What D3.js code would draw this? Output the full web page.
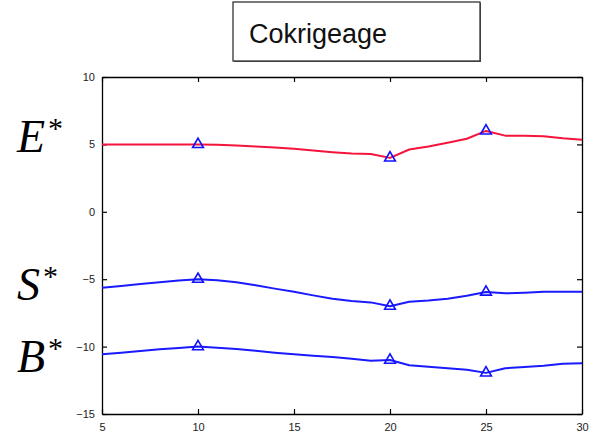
<!DOCTYPE html>
<html>
<head>
<meta charset="utf-8">
<script src="https://cdn.jsdelivr.net/npm/d3@7/dist/d3.min.js"></script>
<style>
html,body{margin:0;padding:0;background:#fff;}
svg{display:block;}
</style>
</head>
<body>
<svg id="chart" width="596" height="439"></svg>
<script>
const xs = [5,6,7,8,9,10,11,12,13,14,15,16,17,18,19,20,21,22,23,24,25,26,27,28,29,30];
const eStar = [5.0,5.0,5.0,5.0,5.0,5.0,4.97,4.92,4.85,4.77,4.67,4.54,4.42,4.32,4.28,4.0,4.62,4.85,5.12,5.42,6.0,5.65,5.65,5.6,5.45,5.35];
const sStar = [-5.63,-5.5,-5.36,-5.22,-5.1,-5.0,-5.08,-5.22,-5.45,-5.7,-5.93,-6.2,-6.45,-6.62,-6.72,-7.0,-6.67,-6.58,-6.45,-6.22,-5.95,-6.05,-6.0,-5.93,-5.93,-5.93];
const bStar = [-10.57,-10.45,-10.32,-10.2,-10.1,-10.0,-10.08,-10.18,-10.3,-10.45,-10.57,-10.68,-10.78,-10.9,-11.05,-11.0,-11.38,-11.5,-11.6,-11.72,-11.95,-11.6,-11.52,-11.42,-11.27,-11.24];
const markerX = [10,20,25];
const xTicks = [5,10,15,20,25,30];
const yTicks = [-15,-10,-5,0,5,10];
const title = "Cokrigeage";
const seriesLabels = ["E","S","B"];

const svg = d3.select("#chart");
const L = 102, R = 582, T = 77, B = 414;
const x = d3.scaleLinear().domain([5,30]).range([L,R]);
const y = d3.scaleLinear().domain([-15,10]).range([B,T]);

// axes
const tickLen = 5;
const fmt = d3.format("d");
const axB = svg.append("g").attr("transform",`translate(0,${B})`)
  .call(d3.axisBottom(x).tickValues(xTicks).tickSizeInner(-tickLen).tickSizeOuter(0).tickPadding(9).tickFormat(fmt));
const axL = svg.append("g").attr("transform",`translate(${L},0)`)
  .call(d3.axisLeft(y).tickValues(yTicks).tickSizeInner(-tickLen).tickSizeOuter(0).tickPadding(7).tickFormat(fmt));
const axT = svg.append("g").attr("transform",`translate(0,${T})`)
  .call(d3.axisTop(x).tickValues(xTicks).tickSizeInner(-tickLen).tickSizeOuter(0).tickFormat(""));
const axR = svg.append("g").attr("transform",`translate(${R},0)`)
  .call(d3.axisRight(y).tickValues(yTicks).tickSizeInner(-tickLen).tickSizeOuter(0).tickFormat(""));
[axB,axL,axT,axR].forEach(a=>{
  a.selectAll("path.domain").attr("stroke","#000").attr("stroke-width",1.3);
  a.selectAll(".tick line").attr("stroke","#000").attr("stroke-width",1.2);
  a.selectAll(".tick text").attr("fill","#222").style("font-family","Arial, 'Liberation Sans', sans-serif").style("font-size","11px");
});

// lines
const line = d3.line().x((d,i)=>x(xs[i])).y(d=>y(d));
const series = [{v:eStar,c:"#f5143c"},{v:sStar,c:"#1a1aff"},{v:bStar,c:"#1a1aff"}];
series.forEach(s=>{
  svg.append("path").datum(s.v).attr("d",line).attr("fill","none")
    .attr("stroke",s.c).attr("stroke-width",2).attr("stroke-linejoin","round");
});
// markers
const tri = d3.symbol().type(d3.symbolTriangle).size(50);
series.forEach(s=>{
  markerX.forEach(mx=>{
    const i = xs.indexOf(mx);
    svg.append("path").attr("d",tri())
      .attr("transform",`translate(${x(mx)},${y(s.v[i])})`)
      .attr("fill","none").attr("stroke","#1010ff").attr("stroke-width",1.6);
  });
});

// title box
svg.append("rect").attr("x",234).attr("y",3).attr("width",247).attr("height",59)
  .attr("fill","#555");
svg.append("rect").attr("x",233).attr("y",2).attr("width",247).attr("height",59)
  .attr("fill","#fff").attr("stroke","#333").attr("stroke-width",1.3);
svg.append("text").attr("x",249).attr("y",43).text(title)
  .style("font-family","Arial, 'Liberation Sans', sans-serif").style("font-size","27px").attr("fill","#111");

// series labels
const labelBase = {E:152, S:300, B:372};
seriesLabels.forEach(n=>{
  const t = svg.append("text").attr("x",17).attr("y",labelBase[n])
    .style("font-family","'Liberation Serif', 'DejaVu Serif', serif").style("font-style","italic")
    .style("font-size","46px").attr("fill","#000");
  t.append("tspan").text(n);
  t.append("tspan").text("*").style("font-style","normal").style("font-size","30px").attr("dy",-14).attr("dx",3);
});
</script>
</body>
</html>
